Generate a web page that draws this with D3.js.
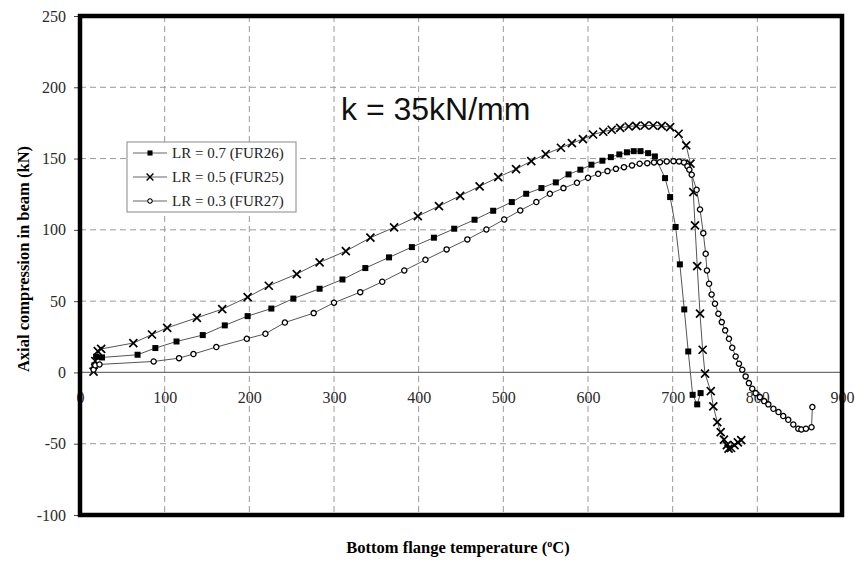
<!DOCTYPE html>
<html>
<head>
<meta charset="utf-8">
<script src="https://cdn.jsdelivr.net/npm/d3@7"></script>
<style>
  html, body { margin: 0; padding: 0; background: #fff; }
  svg { display: block; }
</style>
</head>
<body>
<svg id="chart" width="855" height="563"></svg>
<script>
// Axial compression in beam vs bottom flange temperature, three load ratios

const xTicks = [0, 100, 200, 300, 400, 500, 600, 700, 800, 900];
const yTicks = [-100, -50, 0, 50, 100, 150, 200, 250];

const seriesNames = ["LR = 0.7 (FUR26)", "LR = 0.5 (FUR25)", "LR = 0.3 (FUR27)"];

// [temperature (°C), axial force (kN)]
const fur26 = [
  [17, 5], [19, 11], [26, 10.5], [68, 12.4], [89, 17.1], [114, 21.7], [145, 26.2],
  [171, 33], [198, 39.5], [226, 44.8], [252, 51.8], [283, 58.7], [310, 65.2],
  [337, 73.2], [365, 80.7], [392, 87.9], [418, 94.5], [442, 100.8], [466, 107.1],
  [488, 113.4], [510, 119.5], [527, 125.3], [545, 129.3], [562, 133.3], [577, 138.9],
  [591, 142.2], [604, 145.7], [617, 148.5], [627, 151], [637, 152.9], [646, 154.4],
  [654, 155.2], [662, 155.2], [671, 153.8], [679, 151.5], [691, 136.3], [697, 123],
  [703.5, 102], [708.5, 75.8], [713.7, 44.2], [718.4, 14.7], [723.6, -15.7],
  [729, -22.4], [733, -14.5]
];

const fur25 = [
  [16, 0.5], [18, 8], [21, 15], [25, 16.5], [63, 20.6], [85, 26.6], [103, 31.3],
  [138, 38.3], [168, 44.4], [198, 52.8], [223, 60.8], [256, 69], [283, 77.2],
  [314, 85.1], [343, 94.5], [371, 101.7], [399, 109.6], [424, 116.7], [449, 123.9],
  [472, 130.5], [494, 137], [515, 142.6], [533, 148.2], [550, 153.1], [568, 157.6],
  [581, 160.8], [594, 163.7], [606, 166.9], [618, 168.8], [628, 170.2], [638, 171.6],
  [648, 172.5], [657, 173], [667, 173.2], [677, 173.2], [687, 173], [697, 172],
  [707, 167.4], [716, 159.2], [721, 146.4], [724.4, 126.5], [726.4, 103.1],
  [729, 74.5], [732.3, 41.2], [735.4, 15.9], [738.2, -0.9], [745, -13.1],
  [748, -23.8], [752.7, -34.8], [756.7, -41.9], [760.6, -47.2], [764, -51],
  [766, -53.5], [769, -53], [773, -51], [777, -49], [781, -47.5]
];

const fur27 = [
  [16, 2], [18, 5], [23, 5.6], [87, 7.7], [117, 10], [134, 12.9], [161, 17.8],
  [197, 23.6], [219, 27.1], [242, 35], [276, 41.6], [300, 48.9], [331, 56.3],
  [357, 63.6], [383, 71.5], [408, 79], [433, 86.3], [457.5, 93.3], [480, 100.3],
  [501, 107.3], [520, 113.6], [539, 119.5], [555, 125.3], [571, 129.3], [587, 133],
  [600, 136.5], [612, 139.3], [623, 141.2], [633, 142.8], [642.5, 144], [652, 145.2],
  [661, 146.4], [670, 146.8], [678, 147.3], [685, 147.5], [693, 148], [701, 148.2],
  [707.5, 148], [713.4, 147.3], [717.4, 144.7], [719.7, 142.2], [722.5, 138.7],
  [728.3, 128.1], [732.3, 114.3], [736.2, 97.7], [739, 83.2], [740.5, 71.5],
  [743, 62.2], [746, 54.7], [750, 48.2], [754, 41.2], [758, 35.3], [762, 29.5],
  [766.5, 23.6], [770.4, 17.3], [774.4, 11.2], [778.3, 6.1], [782.2, 1.9],
  [786.2, -2.8], [790, -7.5], [794, -11.4], [798, -14.5], [803, -17.3],
  [808, -20.1], [813, -22.4], [819, -25.5], [825, -27.8], [830.6, -30.6],
  [836.5, -33.2], [842.5, -36.5], [848.4, -39.5], [852, -40], [857.4, -39.5],
  [864, -38.4], [865, -24.3]
];

const annotation = "k = 35kN/mm";

const svg = d3.select("#chart");
const serif = "'Liberation Serif', 'Times New Roman', serif";
const plain = d => String(d);

const x = d3.scaleLinear().domain([0, 900]).range([80, 842]);
const y = d3.scaleLinear().domain([-100, 250]).range([515, 16]);

// Tick labels along the zero line (drawn first so grid and frame sit above)
const xAxis = d3.axisBottom(x).tickValues(xTicks).tickSize(0).tickPadding(19).tickFormat(plain);
const gx = svg.append("g").attr("transform", `translate(0,${y(0)})`).call(xAxis);
gx.select(".domain").remove();
gx.selectAll("text").attr("font-family", serif).attr("font-size", 16).attr("fill", "#2a2a2a");

// Dashed grid
const grid = svg.append("g").attr("stroke", "#9a9a9a").attr("stroke-width", 1).attr("stroke-dasharray", "6,4");
grid.selectAll("line.v").data(xTicks.filter(d => d > 0 && d < 900)).join("line")
  .attr("class", "v")
  .attr("x1", d => x(d)).attr("x2", d => x(d))
  .attr("y1", y(250)).attr("y2", y(-100));
grid.selectAll("line.h").data(yTicks.filter(d => d !== 0 && d > -100 && d < 250)).join("line")
  .attr("class", "h")
  .attr("x1", x(0)).attr("x2", x(900))
  .attr("y1", d => y(d)).attr("y2", d => y(d));

// Zero line
svg.append("line")
  .attr("x1", x(0)).attr("x2", x(900))
  .attr("y1", y(0)).attr("y2", y(0))
  .attr("stroke", "#707070").attr("stroke-width", 1.2);

// Y axis with outward ticks
const yAxis = d3.axisLeft(y).tickValues(yTicks).tickSize(6).tickPadding(8).tickFormat(plain);
const gy = svg.append("g").attr("transform", `translate(${x(0)},0)`).call(yAxis);
gy.select(".domain").remove();
gy.selectAll(".tick line").attr("stroke", "#444");
gy.selectAll("text").attr("font-family", serif).attr("font-size", 16).attr("fill", "#2a2a2a");

// Plot frame
svg.append("rect")
  .attr("x", x(0)).attr("y", y(250))
  .attr("width", x(900) - x(0)).attr("height", y(-100) - y(250))
  .attr("fill", "none").attr("stroke", "#000").attr("stroke-width", 4.5);

// Series
const line = d3.line().x(d => x(d[0])).y(d => y(d[1]));

function drawMarker(sel, kind) {
  if (kind === "square") {
    sel.append("rect").attr("x", -3).attr("y", -3).attr("width", 6).attr("height", 6).attr("fill", "#000");
  } else if (kind === "cross") {
    sel.append("path").attr("d", "M-4,-4L4,4M4,-4L-4,4").attr("stroke", "#000").attr("stroke-width", 1.7).attr("fill", "none");
  } else {
    sel.append("circle").attr("r", 2.6).attr("fill", "#fff").attr("stroke", "#000").attr("stroke-width", 1.3);
  }
}

const series = [
  { name: seriesNames[0], data: fur26, kind: "square" },
  { name: seriesNames[1], data: fur25, kind: "cross" },
  { name: seriesNames[2], data: fur27, kind: "circle" }
];

series.forEach(s => {
  svg.append("path").datum(s.data).attr("d", line)
    .attr("fill", "none").attr("stroke", "#555").attr("stroke-width", 1);
});
series.forEach(s => {
  const g = svg.append("g");
  s.data.forEach(d => {
    const m = g.append("g").attr("transform", `translate(${x(d[0])},${y(d[1])})`);
    drawMarker(m, s.kind);
  });
});

// Legend
const legend = svg.append("g").attr("transform", "translate(127,142)");
legend.append("rect").attr("width", 169).attr("height", 70)
  .attr("fill", "#fff").attr("stroke", "#888").attr("stroke-width", 1);
series.forEach((s, i) => {
  const row = legend.append("g").attr("transform", `translate(0,${11 + i * 24})`);
  row.append("line").attr("x1", 6).attr("x2", 40).attr("y1", 0).attr("y2", 0)
    .attr("stroke", "#666").attr("stroke-width", 1);
  const m = row.append("g").attr("transform", "translate(23,0) scale(0.85)");
  drawMarker(m, s.kind);
  row.append("text").attr("x", 45).attr("y", 5)
    .attr("font-family", serif).attr("font-size", 15).attr("fill", "#222")
    .text(s.name);
});

// Annotation
svg.append("text").attr("x", 341).attr("y", 120)
  .attr("font-family", "'Liberation Sans', Arial, sans-serif").attr("font-size", 32)
  .attr("fill", "#111").text(annotation);

// Axis titles
svg.append("text")
  .attr("transform", "translate(29,259) rotate(-90)")
  .attr("text-anchor", "middle")
  .attr("font-family", serif).attr("font-weight", "bold").attr("font-size", 16.5)
  .attr("fill", "#000")
  .text("Axial compression in beam (kN)");

const xt = svg.append("text")
  .attr("x", 458).attr("y", 553)
  .attr("text-anchor", "middle")
  .attr("font-family", serif).attr("font-weight", "bold").attr("font-size", 16.5)
  .attr("fill", "#000");
xt.append("tspan").text("Bottom flange temperature (");
xt.append("tspan").attr("font-size", 10).attr("dy", -6).text("o");
xt.append("tspan").attr("dy", 6).text("C)");
</script>
</body>
</html>
